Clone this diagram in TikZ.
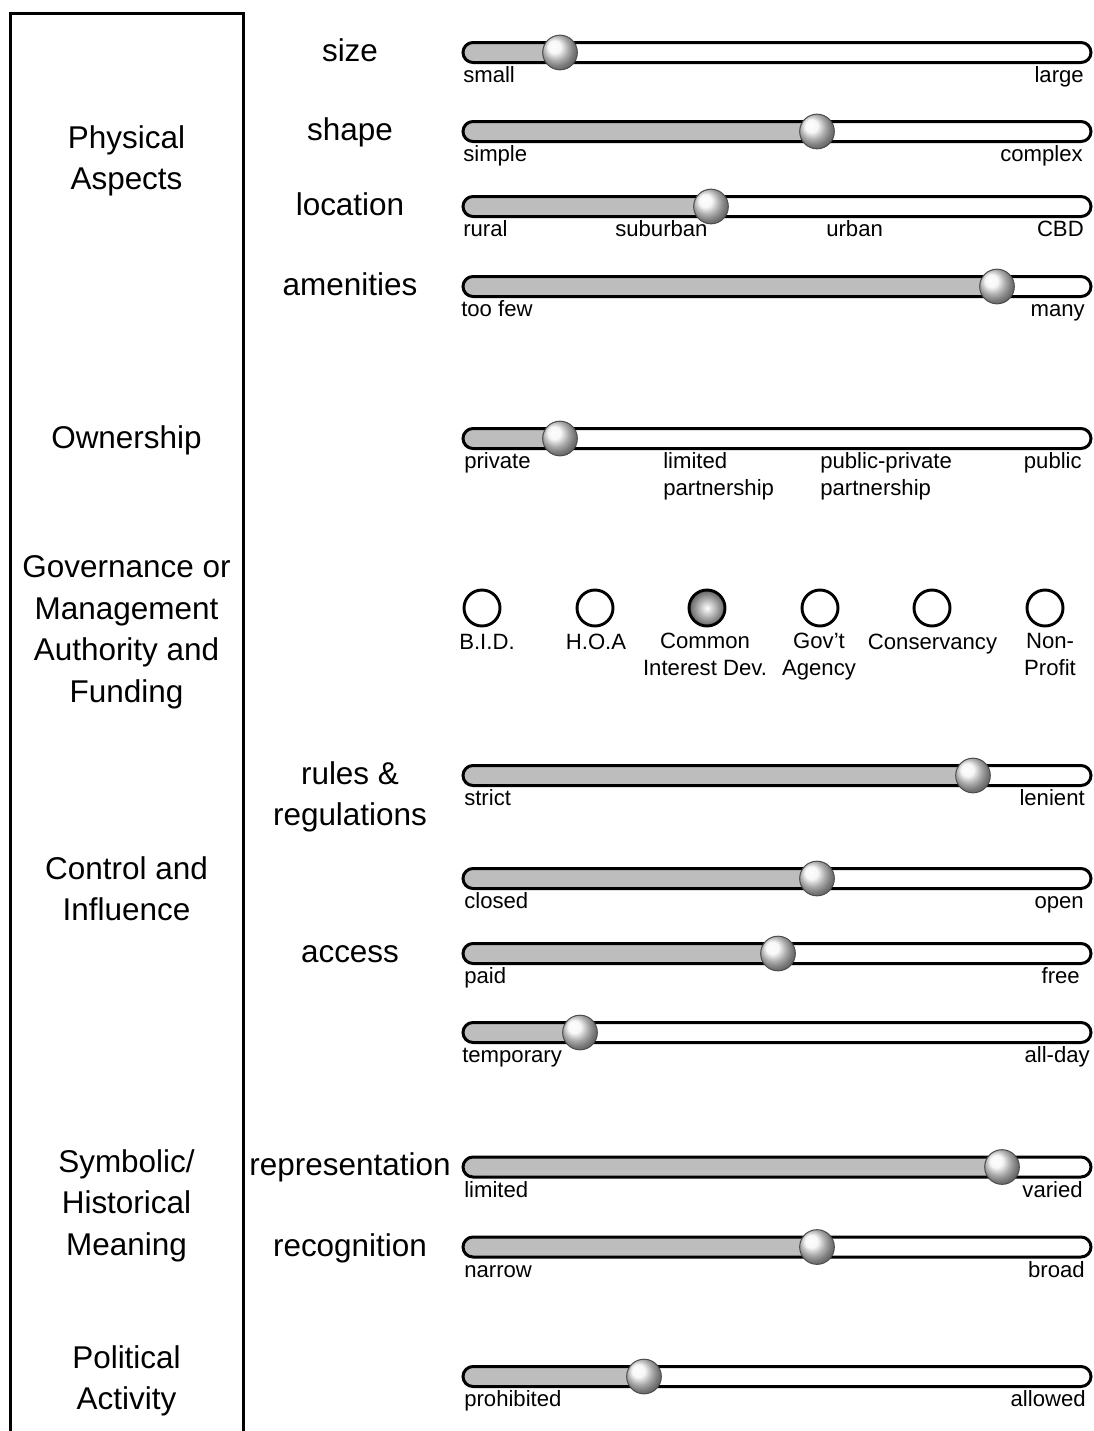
\documentclass[tikz,border=0pt]{standalone}
\usepackage{fontspec}
\setmainfont{Liberation Sans}
\newcommand\slbar[3]{%
  \begin{scope}
    \clip (455,#2-15) rectangle (#3,#2+15);
    \fill[barfill,rounded corners=7.5pt] (463,#2-10) rectangle (1091,#2+10);
  \end{scope}
  \draw[barline,rounded corners=7.5pt] (463,#2-10) rectangle (1091,#2+10);
  \node[knob] (#1) at (#3,#2) {};
}
\begin{document}
\begin{tikzpicture}[x=0.75pt,y=-0.75pt,
  big/.style={font=\fontsize{23.6}{31.2}\selectfont, align=center, inner sep=0pt},
  lab/.style={font=\fontsize{16.6}{20.25}\selectfont, inner sep=0pt},
  barfill/.style={fill=black!26},
  barline/.style={draw=black, line width=2.25pt},
  knob/.style={circle, minimum size=26pt, inner sep=0pt, ball color=black!4, draw=black!70, line width=0.75pt},
  radio/.style={circle, minimum size=27pt, inner sep=0pt, draw=black, line width=2.2pt, fill=white},
  radioon/.style={radio, shading=radial, inner color=white, outer color=black!62},
  frame/.style={draw=black, line width=2.25pt}]
\useasboundingbox (0,0) rectangle (1094,1431);
\fill[white] (0,0) rectangle (1094,1431);
% left frame (open at bottom)
\draw[frame] (10,1431) -- (10,13) -- (243,13) -- (243,1431);

% left column labels
\node[big, anchor=north] (phys) at (126.5,148-22.8) {Physical\\Aspects};
\node[big, anchor=base] (own) at (126.5,448) {Ownership};
\node[big, anchor=north] (gov) at (126.5,578-22.8) {Governance or\\Management\\Authority and\\Funding};
\node[big, anchor=north] (ctrl) at (126.5,879-22.8) {Control and\\Influence};
\node[big, anchor=north] (sym) at (126.5,1172-22.8) {Symbolic/\\Historical\\Meaning};
\node[big, anchor=north] (pol) at (126.5,1368-22.8) {Political\\Activity};

% middle column labels
\node[big, anchor=base] (size) at (350,61) {size};
\node[big, anchor=base] (shape) at (350,140) {shape};
\node[big, anchor=base] (loc) at (350,215) {location};
\node[big, anchor=base] (amen) at (350,295) {amenities};
\node[big, anchor=north] (rules) at (350,784-22.8) {rules \&\\regulations};
\node[big, anchor=base] (access) at (350,962) {access};
\node[big, anchor=base] (repr) at (350,1175) {representation};
\node[big, anchor=base] (recog) at (350,1256) {recognition};

% sliders
\slbar{k1}{52.5}{560}
\node[lab, anchor=base west] (l1a) at (463,82.5) {small};
\node[lab, anchor=base east] (l1b) at (1084,82.5) {large};

\slbar{k2}{131.5}{817}
\node[lab, anchor=base west] (l2a) at (463,161.5) {simple};
\node[lab, anchor=base east] (l2b) at (1083,161.5) {complex};

\slbar{k3}{206.5}{711}
\node[lab, anchor=base west] (l3a) at (463,236.5) {rural};
\node[lab, anchor=base west] (l3b) at (615,236.5) {suburban};
\node[lab, anchor=base west] (l3c) at (826,236.5) {urban};
\node[lab, anchor=base east] (l3d) at (1084,236.5) {CBD};

\slbar{k4}{286.5}{997}
\node[lab, anchor=base west] (l4a) at (461,316.5) {too few};
\node[lab, anchor=base east] (l4b) at (1085,316.5) {many};

\slbar{k5}{438.5}{560}
\node[lab, anchor=base west] (l5a) at (464,468.5) {private};
\node[lab, anchor=north west, align=left] (l5b) at (663,468.5-16) {limited\\partnership};
\node[lab, anchor=north west, align=left] (l5c) at (820,468.5-16) {public-private\\partnership};
\node[lab, anchor=base east] (l5d) at (1082,468.5) {public};

% governance radio buttons
\node[radio] (r1) at (482,608) {};
\node[radio] (r2) at (595,608) {};
\node[radioon] (r3) at (707,608) {};
\node[radio] (r4) at (820,608) {};
\node[radio] (r5) at (932,608) {};
\node[radio] (r6) at (1045,608) {};
\node[lab, anchor=base] (t1) at (487,649) {B.I.D.};
\node[lab, anchor=base] (t2) at (596,649) {H.O.A};
\node[lab, anchor=north, align=center] (t3) at (705,649-16) {Common\\Interest Dev.};
\node[lab, anchor=north, align=center] (t4) at (819,649-16) {Gov't\\Agency};
\node[lab, anchor=base] (t5) at (932.5,649) {Conservancy};
\node[lab, anchor=north, align=center] (t6) at (1050,649-16) {Non-\\Profit};

\slbar{k7}{775.5}{973}
\node[lab, anchor=base west] (l7a) at (464,805.5) {strict};
\node[lab, anchor=base east] (l7b) at (1085,805.5) {lenient};

\slbar{k8}{878.5}{817}
\node[lab, anchor=base west] (l8a) at (464,908.5) {closed};
\node[lab, anchor=base east] (l8b) at (1084,908.5) {open};

\slbar{k9}{953.5}{778}
\node[lab, anchor=base west] (l9a) at (464,983.5) {paid};
\node[lab, anchor=base east] (l9b) at (1080,983.5) {free};

\slbar{k10}{1032.5}{580}
\node[lab, anchor=base west] (l10a) at (462,1062.5) {temporary};
\node[lab, anchor=base east] (l10b) at (1090,1062.5) {all-day};

\slbar{k11}{1167}{1002}
\node[lab, anchor=base west] (l11a) at (464,1197) {limited};
\node[lab, anchor=base east] (l11b) at (1083,1197) {varied};

\slbar{k12}{1247}{817}
\node[lab, anchor=base west] (l12a) at (464,1277) {narrow};
\node[lab, anchor=base east] (l12b) at (1085,1277) {broad};

\slbar{k13}{1376.5}{644}
\node[lab, anchor=base west] (l13a) at (464,1406.5) {prohibited};
\node[lab, anchor=base east] (l13b) at (1086,1406.5) {allowed};
\end{tikzpicture}
\end{document}
